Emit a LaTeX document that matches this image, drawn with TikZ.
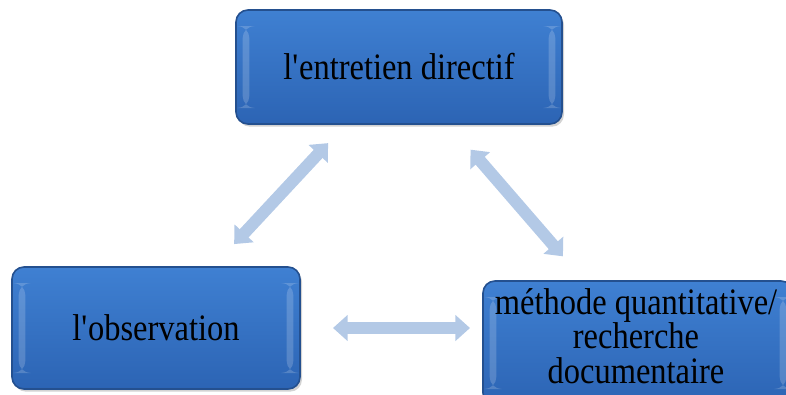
\documentclass[tikz,border=0pt]{standalone}
\usepackage{fontspec}
\setmainfont[FakeStretch=0.87]{Liberation Serif}
\usetikzlibrary{arrows.meta,shadows}

\definecolor{boxtop}{HTML}{3F80D2}
\definecolor{boxbot}{HTML}{2C64B4}
\definecolor{boxedge}{HTML}{24508F}
\definecolor{linkblue}{HTML}{B3C9E6}

\tikzset{
  methodbox/.style={rounded corners=9pt, draw=boxedge, line width=1.2pt,
    top color=boxtop, bottom color=boxbot, inner sep=0pt, align=center,
    font=\rmfamily\fontsize{28}{26}\selectfont, text=black,
    drop shadow={shadow xshift=1.5pt, shadow yshift=-2pt, opacity=.35},
    path picture={
      \fill[white,opacity=.18] ([xshift=5pt,yshift=-12pt]path picture bounding box.north west)
        rectangle ([xshift=10pt,yshift=12pt]path picture bounding box.south west);
      \fill[white,opacity=.18] ([xshift=-10pt,yshift=-12pt]path picture bounding box.north east)
        rectangle ([xshift=-5pt,yshift=12pt]path picture bounding box.south east);
    }},
  link/.style={line width=9pt, draw=linkblue,
    {Triangle[width=19pt,length=11pt]}-{Triangle[width=19pt,length=11pt]}}
}

\begin{document}
\begin{tikzpicture}[x=0.75pt,y=-0.75pt]
    \useasboundingbox (0,0) rectangle (786,394);
    \clip (0,0) rectangle (786,394);
    % the three methods
    \node[methodbox, minimum width=326*0.75pt, minimum height=114*0.75pt] (entretien) at (399,67) {l\textquotesingle entretien directif};
    \node[methodbox, minimum width=288*0.75pt, minimum height=122*0.75pt] (observation) at (156,328) {l\textquotesingle observation};
    \node[methodbox, minimum width=310*0.75pt, minimum height=124*0.75pt] (methode) at (638,343) {};
    \node[font=\rmfamily\fontsize{28}{26}\selectfont, align=center, inner sep=0pt] (methodetext) at (636,336) {méthode quantitative/\\recherche\\documentaire};
    % links
    \coordinate (obsright) at (333,328);
    \coordinate (methleft) at (470,328);
    \draw[link, shorten <=78pt, shorten >=86pt] (entretien.center) -- (observation.center);
    \draw[link, shorten <=82pt, shorten >=86pt] (entretien.center) -- (methode.center);
    \draw[link] (obsright) -- (methleft);
\end{tikzpicture}
\end{document}
